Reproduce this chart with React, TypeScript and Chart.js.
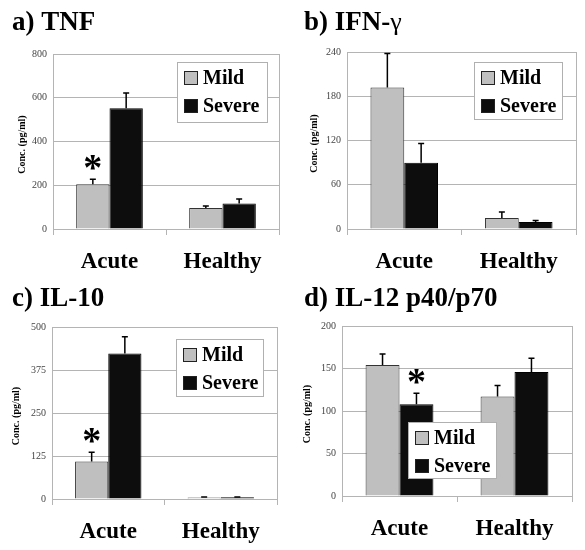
import React, { useEffect, useRef } from "react";
import { Chart, registerables } from "chart.js";

Chart.register(...registerables);

// ---------- data ----------
const categories = ["Acute", "Healthy"];
const seriesNames = ["Mild", "Severe"];

const tnfMild = [205, 96];
const tnfMildErr = [23, 9];
const tnfSevere = [552, 117];
const tnfSevereErr = [70, 20];
const tnfTicks = [0, 200, 400, 600, 800];

const ifnMild = [192, 15];
const ifnMildErr = [46, 8];
const ifnSevere = [90, 9.5];
const ifnSevereErr = [26, 2];
const ifnTicks = [0, 60, 120, 180, 240];

const il10Mild = [109, 4];
const il10MildErr = [27, 2];
const il10Severe = [423, 5];
const il10SevereErr = [49, 1];
const il10Ticks = [0, 125, 250, 375, 500];

const il12Mild = [154, 117];
const il12MildErr = [13, 13];
const il12Severe = [108, 146];
const il12SevereErr = [13, 16];
const il12Ticks = [0, 50, 100, 150, 200];

const yAxisTitle = "Conc. (pg/ml)";

// ---------- styles ----------
const MILD_COLOR = "#bfbfbf";
const SEVERE_COLOR = "#0d0d0d";
const GRID_COLOR = "#b4b4b4";
const SERIF = "'Liberation Serif', 'Times New Roman', serif";

type PanelSpec = {
  key: string;
  x: number;
  y: number;
  w: number;
  h: number;
  area: { l: number; t: number; r: number; b: number };
  title: string;
  titleSuffix?: string;
  titleY: number;
  mild: number[];
  mildErr: number[];
  severe: number[];
  severeErr: number[];
  ticks: number[];
  star?: { ds: number; i: number };
  legend: { x: number; y: number; w: number; h: number };
  yTitleX: number;
};

const panels: PanelSpec[] = [
  {
    key: "a",
    x: 0, y: 0, w: 292, h: 275,
    area: { l: 53, t: 54, r: 279, b: 229 },
    title: "a) TNF", titleY: 30,
    mild: tnfMild, mildErr: tnfMildErr, severe: tnfSevere, severeErr: tnfSevereErr,
    ticks: tnfTicks,
    star: { ds: 0, i: 0 },
    legend: { x: 177, y: 62, w: 90, h: 60 },
    yTitleX: 22,
  },
  {
    key: "b",
    x: 292, y: 0, w: 293, h: 275,
    area: { l: 55, t: 52, r: 284, b: 229 },
    title: "b) IFN-", titleSuffix: "γ", titleY: 30,
    mild: ifnMild, mildErr: ifnMildErr, severe: ifnSevere, severeErr: ifnSevereErr,
    ticks: ifnTicks,
    legend: { x: 182, y: 62, w: 88, h: 57 },
    yTitleX: 22,
  },
  {
    key: "c",
    x: 0, y: 275, w: 292, h: 275,
    area: { l: 52, t: 52, r: 277, b: 224 },
    title: "c) IL-10", titleY: 31,
    mild: il10Mild, mildErr: il10MildErr, severe: il10Severe, severeErr: il10SevereErr,
    ticks: il10Ticks,
    star: { ds: 0, i: 0 },
    legend: { x: 176, y: 64, w: 87, h: 57 },
    yTitleX: 16,
  },
  {
    key: "d",
    x: 292, y: 275, w: 293, h: 275,
    area: { l: 50, t: 51, r: 280, b: 221 },
    title: "d) IL-12 p40/p70", titleY: 31,
    mild: il12Mild, mildErr: il12MildErr, severe: il12Severe, severeErr: il12SevereErr,
    ticks: il12Ticks,
    star: { ds: 1, i: 0 },
    legend: { x: 116, y: 147, w: 88, h: 56 },
    yTitleX: 15,
  },
];

const decorPlugin = {
  id: "decor",
  beforeDatasetsDraw(chart: any) {
    const { ctx, chartArea } = chart;
    ctx.save();
    ctx.strokeStyle = GRID_COLOR;
    ctx.lineWidth = 1;
    ctx.beginPath();
    const rx = Math.round(chartArea.right) + 0.5;
    ctx.moveTo(rx, chartArea.top);
    ctx.lineTo(rx, chartArea.bottom);
    ctx.stroke();
    ctx.restore();
  },
  afterDatasetsDraw(chart: any, _args: any, opts: any) {
    const { ctx } = chart;
    const yScale = chart.scales.y;
    ctx.save();
    ctx.strokeStyle = "#000";
    ctx.lineWidth = 1.5;
    chart.data.datasets.forEach((ds: any, di: number) => {
      const meta = chart.getDatasetMeta(di);
      const errs: number[] = opts.errors[di];
      meta.data.forEach((bar: any, i: number) => {
        const v = ds.data[i];
        const yTop = yScale.getPixelForValue(v + errs[i]);
        ctx.beginPath();
        ctx.moveTo(bar.x, bar.y);
        ctx.lineTo(bar.x, yTop);
        ctx.moveTo(bar.x - 3, yTop);
        ctx.lineTo(bar.x + 3, yTop);
        ctx.stroke();
      });
    });
    if (opts.star) {
      const { ds, i } = opts.star;
      const bar = chart.getDatasetMeta(ds).data[i];
      const v = chart.data.datasets[ds].data[i];
      const yTop = yScale.getPixelForValue(v + opts.errors[ds][i]);
      ctx.fillStyle = "#000";
      ctx.font = `bold 38px ${SERIF}`;
      ctx.textAlign = "center";
      ctx.textBaseline = "alphabetic";
      ctx.fillText("*", bar.x, yTop + 1);
    }
    ctx.restore();
  },
  afterDraw(chart: any, _args: any, opts: any) {
    const { ctx, chartArea } = chart;
    ctx.save();
    // title
    ctx.fillStyle = "#000";
    ctx.textBaseline = "alphabetic";
    ctx.textAlign = "left";
    ctx.font = `bold 27px ${SERIF}`;
    ctx.fillText(opts.title, 12, opts.titleY);
    if (opts.titleSuffix) {
      const w = ctx.measureText(opts.title).width;
      ctx.font = `26px ${SERIF}`;
      ctx.fillText(opts.titleSuffix, 12 + w, opts.titleY);
    }
    // y axis title
    ctx.save();
    ctx.translate(opts.yTitleX, (chartArea.top + chartArea.bottom) / 2 + 3);
    ctx.rotate(-Math.PI / 2);
    ctx.font = `bold 10px ${SERIF}`;
    ctx.textAlign = "center";
    ctx.textBaseline = "middle";
    ctx.fillText(opts.yTitle, 0, 0);
    ctx.restore();
    // legend
    const L = opts.legend;
    ctx.fillStyle = "#fff";
    ctx.fillRect(L.x, L.y, L.w, L.h);
    ctx.strokeStyle = "#b0b0b0";
    ctx.lineWidth = 1;
    ctx.strokeRect(L.x + 0.5, L.y + 0.5, L.w, L.h);
    const datasets = chart.data.datasets;
    datasets.forEach((ds: any, di: number) => {
      const sy = L.y + 9 + di * 28;
      ctx.fillStyle = ds.backgroundColor;
      ctx.fillRect(L.x + 7, sy, 14, 14);
      ctx.strokeStyle = "#222";
      ctx.strokeRect(L.x + 7.5, sy + 0.5, 13, 13);
      ctx.fillStyle = "#000";
      ctx.font = `bold 20px ${SERIF}`;
      ctx.textAlign = "left";
      ctx.textBaseline = "alphabetic";
      ctx.fillText(ds.label, L.x + 26, sy + 13);
    });
    ctx.restore();
  },
};

function Panel({ spec }: { spec: PanelSpec }) {
  const ref = useRef<HTMLCanvasElement | null>(null);
  useEffect(() => {
    if (!ref.current) return;
    const { area, w, h } = spec;
    const chart = new Chart(ref.current, {
      type: "bar",
      data: {
        labels: categories,
        datasets: [
          {
            label: seriesNames[0],
            data: spec.mild,
            backgroundColor: MILD_COLOR,
            borderColor: "#333",
            borderWidth: 1,
            categoryPercentage: 0.59,
            barPercentage: 1,
          },
          {
            label: seriesNames[1],
            data: spec.severe,
            backgroundColor: SEVERE_COLOR,
            borderColor: "#000",
            borderWidth: 1,
            categoryPercentage: 0.59,
            barPercentage: 1,
          },
        ],
      },
      options: {
        animation: false,
        responsive: false,
        devicePixelRatio: 1,
        layout: { padding: { top: area.t, right: w - area.r, left: 0, bottom: 0 } },
        plugins: {
          legend: { display: false },
          tooltip: { enabled: false },
          title: { display: false },
          decor: {
            title: spec.title,
            titleSuffix: spec.titleSuffix,
            titleY: spec.titleY,
            errors: [spec.mildErr, spec.severeErr],
            star: spec.star,
            legend: spec.legend,
            yTitle: yAxisTitle,
            yTitleX: spec.yTitleX,
          },
        } as any,
        scales: {
          x: {
            type: "category",
            offset: true,
            grid: {
              offset: true,
              drawOnChartArea: false,
              drawTicks: true,
              tickLength: 6,
              color: GRID_COLOR,
            },
            border: { display: true, color: GRID_COLOR },
            ticks: {
              color: "#000",
              font: { family: SERIF, size: 23, weight: "bold" },
              padding: 13,
              maxRotation: 0,
            },
            afterFit: (s: any) => {
              s.height = h - area.b;
            },
          },
          y: {
            min: 0,
            max: spec.ticks[spec.ticks.length - 1],
            grid: { color: GRID_COLOR, drawTicks: false },
            border: { display: true, color: GRID_COLOR },
            ticks: {
              color: "#444",
              font: { family: SERIF, size: 10 },
              padding: 6,
            },
            afterBuildTicks: (s: any) => {
              s.ticks = spec.ticks.map((v) => ({ value: v }));
            },
            afterFit: (s: any) => {
              s.width = area.l;
            },
          },
        },
      },
      plugins: [decorPlugin],
    });
    return () => chart.destroy();
  }, [spec]);
  return (
    <canvas
      ref={ref}
      width={spec.w}
      height={spec.h}
      style={{ position: "absolute", left: spec.x, top: spec.y, width: spec.w, height: spec.h }}
    />
  );
}

export default function App() {
  return (
    <div
      style={{
        position: "absolute",
        left: 0,
        top: 0,
        width: 585,
        height: 550,
        background: "#fff",
        overflow: "hidden",
      }}
    >
      {panels.map((p) => (
        <Panel key={p.key} spec={p} />
      ))}
    </div>
  );
}
